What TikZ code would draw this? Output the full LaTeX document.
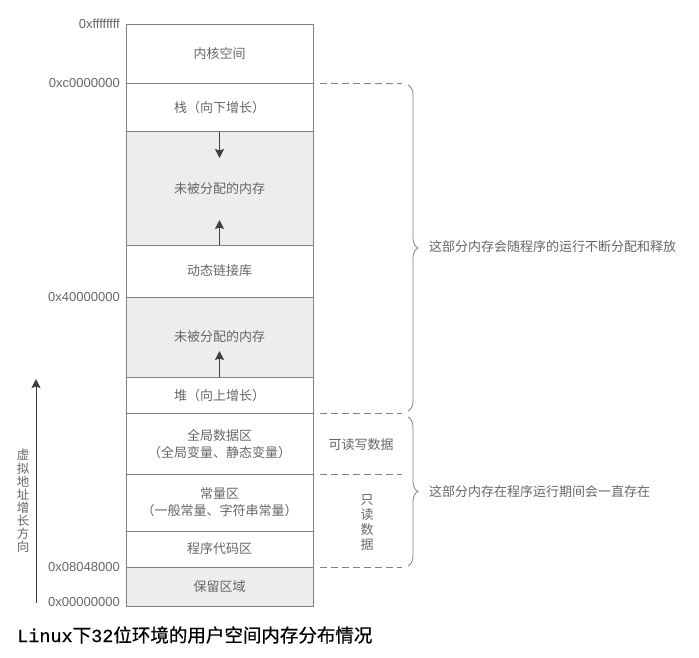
\documentclass[tikz,border=0pt]{standalone}
\usepackage{fontspec}
\setmainfont{Noto Sans CJK SC}
\newfontfamily\hexfont{Liberation Sans}
\newfontfamily\capfont{Noto Sans CJK SC}[FakeBold=0.6]
\newfontfamily\capmono{Liberation Mono}[FakeBold=0.6]
\usepackage{tikz}
\usetikzlibrary{arrows.meta,calc,decorations.pathreplacing}
\definecolor{linegray}{gray}{0.5}
\definecolor{textgray}{gray}{0.4}
\definecolor{freegray}{gray}{0.93}

\begin{document}
\begin{tikzpicture}[x=1pt,y=-1pt]
\tikzstyle{seg} = [draw=linegray, line width=0.8pt, minimum width=187pt, inner sep=0pt, text=textgray, font=\fontsize{13}{17}\selectfont, align=center]
\tikzstyle{freeseg} = [seg, fill=freegray]
\tikzstyle{addr} = [anchor=east, text=textgray, font=\hexfont\fontsize{13}{15}\selectfont, inner sep=0pt]
\tikzstyle{sepline} = [draw=linegray, line width=0.8pt, dash pattern=on 7pt off 4pt]
\tikzstyle{growarrow} = [draw=black!75, line width=0.9pt, -{Stealth[length=9pt,width=9pt,inset=1.5pt]}]
\tikzstyle{bracket} = [draw=linegray, line width=0.8pt, decorate, decoration={brace,amplitude=10pt}]
\tikzstyle{note} = [text=textgray, font=\fontsize{13}{15}\selectfont, inner sep=0pt, align=center]
\useasboundingbox (0,0) rectangle (699,657);

% the memory column, top to bottom
\node[seg, minimum height=59pt] (kernel) at (219.5,53.5) {内核空间};
\node[seg, minimum height=48.5pt] (stack) at (219.5,107.25) {栈（向下增长）};
\node[freeseg, minimum height=113.5pt] (free1) at (219.5,188.25) {未被分配的内存};
\node[seg, minimum height=52pt] (dynlib) at (219.5,271) {动态链接库};
\node[freeseg, minimum height=80pt] (free2) at (219.5,337) {未被分配的内存};
\node[seg, minimum height=36.5pt] (heap) at (219.5,395.25) {堆（向上增长）};
\node[seg, minimum height=60.5pt] (data) at (219.5,443.75) {全局数据区\\（全局变量、静态变量）};
\node[seg, minimum height=57pt] (const) at (219.5,502.5) {常量区\\（一般常量、字符串常量）};
\node[seg, minimum height=36pt] (code) at (219.5,549) {程序代码区};
\node[freeseg, minimum height=39.5pt] (reserved) at (219.5,586.75) {保留区域};

% addresses
\node[addr] (aff) at (120,24) {0xffffffff};
\node[addr] (ac0) at (120,83) {0xc0000000};
\node[addr] (a40) at (120,297) {0x40000000};
\node[addr] (a08) at (120,567) {0x08048000};
\node[addr] (a00) at (120,602) {0x00000000};

% growth arrows
\coordinate (down1) at (219.5,158);
\coordinate (up1) at (219.5,220);
\coordinate (up2) at (219.5,351);
\draw[growarrow] (stack.south) -- (down1);
\draw[growarrow] (dynlib.north) -- (up1);
\draw[growarrow] (heap.north) -- (up2);

% dashed separators
\foreach \y/\n in {83/a,413.5/b,474/c,567/d}{
    \coordinate (sep\n l) at (320,\y);
    \coordinate (sep\n r) at (402,\y);
    \draw[sepline] (sep\n l) -- (sep\n r);
}

% braces
\coordinate (dyntop) at (408,85);
\coordinate (dynbot) at (408,411);
\coordinate (fixtop) at (408,417);
\coordinate (fixbot) at (408,566);
\draw[bracket] (dyntop) -- (dynbot);
\draw[bracket] (fixtop) -- (fixbot);
\node[note, anchor=west] (dynnote) at (429,247) {这部分内存会随程序的运行不断分配和释放};
\node[note, anchor=west] (fixnote) at (429,491.5) {这部分内存在程序运行期间会一直存在};
\node[note] (rw) at (361,445) {可读写数据};
\node[note, font=\fontsize{13}{15}\selectfont] (ro) at (367,523) {只\\读\\数\\据};

% address growth direction
\coordinate (growbot) at (36,603);
\coordinate (growtop) at (36,379);
\draw[growarrow] (growbot) -- (growtop);
\node[note, font=\fontsize{12.5}{13.1}\selectfont] (growlbl) at (23,501) {虚\\拟\\地\\址\\增\\长\\方\\向};

\node[anchor=west, inner sep=0pt, font=\capfont\fontsize{18.5}{20}\selectfont] (caption) at (17,635) {{\capmono Linux}下{\capmono 32}位环境的用户空间内存分布情况};
\end{tikzpicture}
\end{document}
